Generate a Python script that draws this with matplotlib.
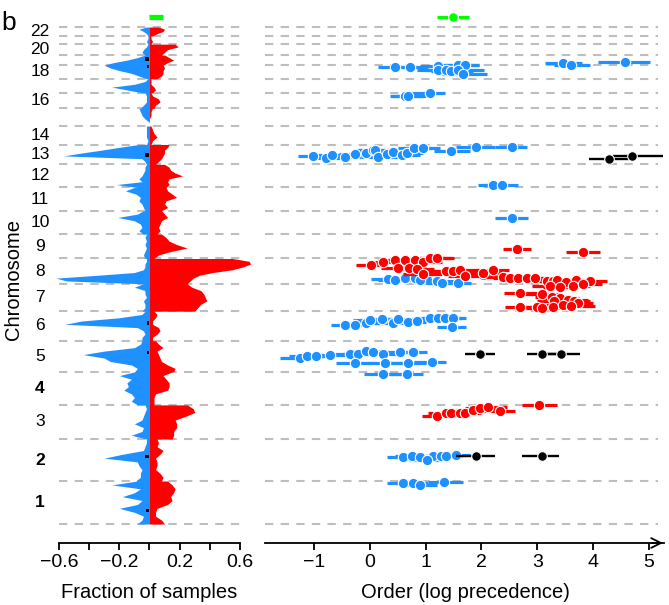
import numpy as np
import matplotlib.pyplot as plt

plt.rcParams['font.family'] = ['Liberation Sans', 'DejaVu Sans']

# chromosome sizes in Mb (chr1 .. chr22)
chrom_len = [249.3, 243.2, 198.0, 191.2, 180.9, 171.1, 159.1, 146.4, 141.2, 135.5, 135.0,
             133.9, 115.2, 107.3, 102.5, 90.4, 81.2, 78.1, 59.1, 63.0, 48.1, 51.3]
label_chroms = [1, 2, 3, 4, 5, 6, 7, 8, 9, 10, 11, 12, 13, 14, 16, 18, 20, 22]
bold_chroms = [1, 2, 4]

# fraction of samples with gain / loss, evenly spaced along each chromosome
# (listed from the top of the chromosome band to its bottom)
gain = [
    [0.12, 0.15, 0.17, 0.16, 0.14, 0.15, 0.12, 0.05, 0.04, 0.04, 0.08, 0.10],
    [0.05, 0.06, 0.05, 0.09, 0.07, 0.04, 0.05, 0.05, 0.04, 0.07, 0.09, 0.08],
    [0.25, 0.29, 0.30, 0.24, 0.17, 0.18, 0.18, 0.16, 0.16, 0.15],
    [0.15, 0.09, 0.11, 0.13, 0.13, 0.12, 0.04, 0.03, 0.03, 0.03],
    [0.04, 0.06, 0.09, 0.05, 0.06, 0.07, 0.08, 0.12, 0.17, 0.16],
    [0.03, 0.05, 0.04, 0.02, 0.02, 0.06, 0.07, 0.05, 0.02, 0.02],
    [0.25, 0.28, 0.34, 0.36, 0.37, 0.38, 0.34, 0.32, 0.30],
    [0.55, 0.66, 0.67, 0.62, 0.55, 0.42, 0.33, 0.29, 0.27, 0.25],
    [0.08, 0.11, 0.13, 0.18, 0.25, 0.14, 0.06, 0.03],
    [0.08, 0.10, 0.12, 0.08, 0.07, 0.06, 0.07, 0.05],
    [0.11, 0.12, 0.15, 0.18, 0.11, 0.10, 0.12, 0.08],
    [0.10, 0.13, 0.14, 0.17, 0.22, 0.13, 0.12, 0.13, 0.11],
    [0.13, 0.12, 0.10, 0.10, 0.09, 0.08, 0.06, 0.04],
    [0.01, 0.02, 0.03, 0.05, 0.02, 0.01],
    [0.02, 0.01, 0.01, 0.00, 0.00, 0.00],
    [0.01, 0.02, 0.06, 0.07, 0.04, 0.03],
    [0.01, 0.01, 0.01, 0.03, 0.04, 0.02],
    [0.09, 0.10, 0.09, 0.09, 0.08, 0.05],
    [0.10, 0.13, 0.16, 0.12, 0.09],
    [0.17, 0.19, 0.12, 0.10, 0.08],
    [0.01, 0.01, 0.02, 0.01],
    [0.06, 0.10, 0.09, 0.05, 0.02],
]
loss = [
    [-0.08, -0.25, -0.06, -0.10, -0.18, -0.05, -0.08, -0.20, -0.10, -0.04, -0.05, -0.08],
    [-0.02, -0.02, -0.03, -0.04, -0.18, -0.30, -0.08, -0.07, -0.05, -0.06, -0.06, -0.09],
    [-0.03, -0.02, -0.03, -0.04, -0.05, -0.10, -0.04, -0.05, -0.12, -0.02],
    [-0.10, -0.20, -0.12, -0.15, -0.14, -0.17, -0.12, -0.10, -0.12, -0.08],
    [-0.05, -0.06, -0.10, -0.30, -0.44, -0.30, -0.26, -0.12, -0.08, -0.10],
    [-0.03, -0.05, -0.20, -0.45, -0.56, -0.08, -0.04, -0.03, -0.05, -0.05],
    [-0.04, -0.10, -0.03, -0.03, -0.02, -0.04, -0.03, -0.03, -0.05],
    [-0.02, -0.02, -0.03, -0.03, -0.04, -0.10, -0.35, -0.62, -0.55, -0.05],
    [-0.02, -0.03, -0.02, -0.03, -0.02, -0.03, -0.04, -0.03],
    [-0.04, -0.08, -0.21, -0.10, -0.06, -0.05, -0.07, -0.04],
    [-0.10, -0.16, -0.09, -0.06, -0.07, -0.05, -0.04, -0.03],
    [-0.02, -0.03, -0.03, -0.04, -0.05, -0.07, -0.05, -0.22, -0.08],
    [-0.07, -0.20, -0.32, -0.45, -0.57, -0.05, -0.03, -0.02],
    [-0.02, -0.02, -0.02, -0.02, -0.01, -0.02],
    [-0.07, -0.06, -0.05, -0.03, 0.00, 0.00],
    [-0.03, -0.02, -0.02, -0.02, -0.04, -0.06],
    [-0.01, -0.03, -0.10, -0.25, -0.15, -0.05],
    [-0.30, -0.26, -0.20, -0.12, -0.07, -0.02],
    [-0.03, -0.08, -0.15, -0.24, -0.30],
    [-0.01, -0.02, -0.04, -0.05, -0.03],
    [-0.01, -0.01, -0.02, -0.01],
    [-0.02, -0.07, -0.04, -0.02, -0.01],
]

# small black marks (chromosome, fraction from top of band, value)
mark_chrom = [19, 13, 2, 1, 18, 6, 5]
mark_frac = [0.37, 0.53, 0.41, 0.68, 0.10, 0.40, 0.38]
mark_val = [-0.03, -0.03, -0.03, -0.025, -0.015, -0.015, -0.015]

green_frac = 0.09
green_pos = 2941

# ordering estimates: genome position (Mb), estimate, interval
blue_pos = [2651, 2651, 2655, 2632, 2632, 2626, 2661, 2661, 2632, 2609, 2671, 2661, 2680,
            2483, 2483, 2497,
            2133, 2122, 2139, 2128, 2145, 2151, 2168, 2168, 2128, 2145, 2157, 2139, 2151,
            2180, 2181, 2162, 2184, 2186,
            1965, 1965, 1772,
            1419, 1414, 1426, 1426, 1414, 1410, 1395, 1395, 1441,
            1154, 1154, 1163, 1183, 1187, 1163, 1187, 1173, 1178, 1192, 1192, 1192, 1192, 1144,
            961, 974, 974, 980, 986, 986, 1005, 999, 986, 999, 995, 935, 935, 935, 941, 868, 868,
            390, 394, 390, 394, 394, 394, 400, 371,
            236, 236, 226, 242]
blue_x = [0.45, 0.72, 1.22, 1.22, 1.36, 1.46, 1.58, 1.70, 1.58, 1.67, 3.46, 3.60, 4.57,
          0.63, 0.68, 1.08,
          -1.02, -0.78, -0.67, -0.45, -0.27, -0.06, 0.05, 0.09, 0.15, 0.30, 0.42, 0.57, 0.66,
          0.79, 0.96, 1.46, 1.91, 2.54,
          2.21, 2.36, 2.54,
          0.32, 0.45, 0.63, 0.81, 0.90, 1.20, 1.30, 1.58, 2.03,
          -0.45, -0.27, -0.06, 0.00, 0.21, 0.42, 0.51, 0.69, 0.84, 1.08, 1.22, 1.35, 1.49, 1.48,
          -1.25, -1.13, -0.96, -0.72, -0.36, -0.21, -0.06, 0.06, 0.24, 0.54, 0.78, -0.27, 0.27,
          0.69, 1.12, 0.23, 0.66,
          0.60, 0.75, 0.90, 1.14, 1.28, 1.37, 1.55, 1.02,
          0.60, 0.78, 0.90, 1.33]
blue_lo = [0.15, 0.40, 0.90, 0.85, 1.00, 1.10, 1.25, 1.35, 1.20, 1.30, 3.14, 3.30, 4.09,
           0.36, 0.40, 0.75,
           -1.28, -1.05, -0.95, -0.75, -0.55, -0.35, -0.25, -0.20, -0.15, 0.00, 0.10, 0.25, 0.35,
           0.50, 0.65, 1.15, 1.55, 2.25,
           1.94, 2.05, 2.24,
           0.03, 0.15, 0.30, 0.50, 0.60, 0.90, 1.00, 1.30, 1.75,
           -0.69, -0.55, -0.35, -0.30, -0.10, 0.10, 0.20, 0.40, 0.55, 0.80, 0.95, 1.05, 1.20, 1.20,
           -1.61, -1.45, -1.25, -1.00, -0.65, -0.50, -0.35, -0.25, -0.05, 0.25, 0.50, -0.60, -0.05,
           0.35, 0.80, -0.10, 0.35,
           0.30, 0.45, 0.60, 0.85, 0.95, 1.05, 1.25, 0.70,
           0.30, 0.45, 0.60, 1.05]
blue_hi = [0.75, 1.05, 1.55, 1.60, 1.75, 1.85, 1.95, 1.95, 2.05, 2.10, 3.80, 3.94, 5.02,
           0.95, 1.00, 1.34,
           -0.75, -0.50, -0.40, -0.15, 0.00, 0.25, 0.35, 0.40, 0.50, 0.60, 0.75, 0.90, 0.95,
           1.10, 1.25, 1.80, 2.25, 2.81,
           2.50, 2.66, 2.84,
           0.60, 0.75, 0.95, 1.10, 1.20, 1.50, 1.60, 1.82, 2.27,
           -0.20, 0.00, 0.25, 0.30, 0.50, 0.75, 0.80, 1.00, 1.15, 1.40, 1.50, 1.65, 1.73, 1.73,
           -0.95, -0.80, -0.65, -0.40, -0.05, 0.10, 0.25, 0.35, 0.55, 0.85, 1.02, 0.05, 0.60,
           1.00, 1.37, 0.55, 0.95,
           0.90, 1.05, 1.20, 1.45, 1.55, 1.65, 1.79, 1.30,
           0.90, 1.05, 1.20, 1.67]

red_pos = [1594, 1579,
           1501, 1516, 1530, 1530, 1530, 1516, 1540, 1540, 1484, 1484, 1478, 1449, 1467, 1467,
           1472, 1438, 1457, 1472, 1433, 1429, 1424, 1424, 1424,
           1408, 1411, 1414, 1403, 1414, 1407, 1380, 1376, 1380, 1389,
           1337, 1333, 1318, 1310, 1299, 1290, 1279, 1290, 1260, 1256, 1252, 1256, 1270, 1262,
           626, 645, 642, 645, 642, 661, 672, 680, 657, 690]
red_x = [2.63, 3.82,
         0.02, 0.24, 0.45, 0.63, 0.81, 0.96, 1.08, 1.20, 0.50, 0.70, 0.85, 0.96, 1.37, 1.49,
         1.61, 1.70, 2.03, 2.21, 2.39, 2.51, 2.66, 2.81, 2.96,
         3.17, 3.29, 3.35, 3.52, 3.70, 3.94, 3.23, 3.41, 3.64, 3.82,
         2.69, 3.08, 3.26, 3.40, 3.55, 3.66, 3.73, 3.30, 2.69, 2.99, 3.08, 3.28, 3.46, 3.60,
         1.20, 1.37, 1.46, 1.61, 1.70, 1.85, 1.97, 2.12, 2.33, 3.03]
red_lo = [2.39, 3.52,
          -0.24, -0.05, 0.15, 0.35, 0.50, 0.65, 0.80, 0.90, 0.20, 0.40, 0.55, 0.60, 1.05, 1.15,
          1.30, 1.40, 1.70, 1.90, 2.05, 2.20, 2.35, 2.50, 2.65,
          2.85, 2.95, 3.00, 3.20, 3.40, 3.60, 2.90, 3.10, 3.30, 3.50,
          2.40, 2.75, 2.95, 3.10, 3.20, 3.35, 3.40, 3.00, 2.42, 2.70, 2.80, 2.95, 3.15, 3.30,
          0.93, 1.05, 1.15, 1.30, 1.40, 1.55, 1.70, 1.80, 2.05, 2.72]
red_hi = [2.88, 4.12,
          0.30, 0.55, 0.75, 0.95, 1.10, 1.30, 1.45, 1.50, 0.80, 1.00, 1.15, 1.30, 1.70, 1.80,
          1.95, 2.00, 2.35, 2.50, 2.70, 2.85, 2.95, 3.10, 3.25,
          3.50, 3.60, 3.70, 3.85, 4.00, 4.24, 3.55, 3.75, 3.95, 4.15,
          3.00, 3.40, 3.60, 3.75, 3.90, 3.94, 4.00, 3.65, 3.00, 3.30, 3.40, 3.60, 3.80, 4.03,
          1.45, 1.65, 1.75, 1.90, 2.00, 2.15, 2.30, 2.45, 2.60, 3.35]

black_pos = [2116, 2135, 986, 986, 986, 394, 394]
black_x = [4.29, 4.69, 1.97, 3.09, 3.43, 1.90, 3.08]
black_lo = [3.93, 4.35, 1.70, 2.81, 3.15, 1.55, 2.73]
black_hi = [4.65, 5.26, 2.24, 3.35, 3.76, 2.24, 3.39]

green_x = [1.49]
green_lo = [1.20]
green_hi = [1.78]

BLUE = '#1E90FF'
RED = '#FF0000'
GREEN = '#00FF00'
GRID = '#BEBEBE'

starts = np.concatenate([[0], np.cumsum(chrom_len)[:-1]])
ends = starts + np.array(chrom_len)
bounds = np.concatenate([starts, [ends[-1]]])
ylim = (-139.1, 3008.7)
axis_y = -110

fig = plt.figure(figsize=(6.69, 6.05), dpi=100)

# ---------------- left panel: gain / loss profile ----------------
ax1 = fig.add_axes([55 / 669, 57 / 605, 200 / 669, 543 / 605])
ax1.set_xlim(-0.6265, 0.6995)
ax1.set_ylim(*ylim)

ax1.hlines(bounds, -0.6, 0.61, colors=GRID, linestyles=(0, (4, 3.5)), lw=1.5, zorder=1)

ys, gs, ls = [], [], []
for c in range(21, -1, -1):
    ys.append(np.linspace(ends[c], starts[c], len(gain[c])))
    gs.append(gain[c])
    ls.append(loss[c])
yy = np.concatenate(ys)
ax1.fill_betweenx(yy, 0, np.concatenate(gs), color=RED, lw=0, zorder=2)
ax1.fill_betweenx(yy, np.concatenate(ls), 0, color=BLUE, lw=0, zorder=2)

for c, f, v in zip(mark_chrom, mark_frac, mark_val):
    yc = ends[c - 1] - f * chrom_len[c - 1]
    ax1.barh(yc, v, height=20, color='black', zorder=3)

ax1.hlines(green_pos, 0, green_frac, colors=GREEN, lw=3.8, zorder=3)

for s in ['top', 'right', 'left']:
    ax1.spines[s].set_visible(False)
ax1.spines['bottom'].set_position(('data', axis_y))
ax1.spines['bottom'].set_bounds(-0.6, 0.6)
ax1.spines['bottom'].set_linewidth(1.3)
ax1.set_xticks([-0.6, -0.4, -0.2, 0, 0.2, 0.4, 0.6])
ax1.set_xticklabels(['\u22120.6', '', '\u22120.2', '', '0.2', '', '0.6'])
ax1.tick_params(axis='x', length=5, width=1.3, labelsize=14, pad=3)
ax1.set_yticks([])

for c in label_chroms:
    yc = (starts[c - 1] + ends[c - 1]) / 2
    ax1.text(-0.075, yc, str(c), transform=ax1.get_yaxis_transform(), ha='center', va='center',
             fontsize=12.5, fontweight='bold' if c in bold_chroms else 'normal')

# ---------------- right panel: ordering ----------------
ax2 = fig.add_axes([262 / 669, 57 / 605, 406 / 669, 543 / 605])
ax2.set_xlim(-1.931, 5.341)
ax2.set_ylim(*ylim)

ax2.hlines(bounds, -1.877, 5.16, colors=GRID, linestyles=(0, (4, 3.5)), lw=1.5, zorder=1)

ax2.hlines(blue_pos, blue_lo, blue_hi, colors=BLUE, lw=2.3, zorder=2)
ax2.scatter(blue_x, blue_pos, s=56, color=BLUE, edgecolors='white', linewidths=0.8, zorder=3)
ax2.hlines(red_pos, red_lo, red_hi, colors=RED, lw=2.3, zorder=4)
ax2.scatter(red_x, red_pos, s=56, color=RED, edgecolors='white', linewidths=0.8, zorder=5)
ax2.hlines(black_pos, black_lo, black_hi, colors='black', lw=1.7, zorder=6)
ax2.scatter(black_x, black_pos, s=48, color='black', edgecolors='white', linewidths=0.8, zorder=7)
ax2.hlines([green_pos], green_lo, green_hi, colors=GREEN, lw=2.3, zorder=6)
ax2.scatter(green_x, [green_pos], s=48, color=GREEN, edgecolors='white', linewidths=0.8, zorder=7)

for s in ['top', 'right', 'left']:
    ax2.spines[s].set_visible(False)
ax2.spines['bottom'].set_position(('data', axis_y))
ax2.spines['bottom'].set_bounds(-1.877, 5.27)
ax2.spines['bottom'].set_linewidth(1.3)
ax2.annotate('', xy=(5.30, axis_y), xytext=(5.0, axis_y),
             arrowprops=dict(arrowstyle='->,head_length=0.7,head_width=0.35', lw=1.3, color='black'),
             annotation_clip=False)
ax2.set_xticks([-1, 0, 1, 2, 3, 4, 5])
ax2.set_xticklabels(['\u22121', '0', '1', '2', '3', '4', '5'])
ax2.tick_params(axis='x', length=5, width=1.3, labelsize=14, pad=3)
ax2.set_yticks([])

fig.text(149 / 669, 1 - 592 / 605, 'Fraction of samples', ha='center', va='center', fontsize=14.5)
fig.text(465 / 669, 1 - 592 / 605, 'Order (log precedence)', ha='center', va='center', fontsize=14.5)
fig.text(14 / 669, 1 - 279 / 605, 'Chromosome', rotation=90, ha='center', va='center', fontsize=14.5)
fig.text(9 / 669, 1 - 23 / 605, 'b', ha='center', va='center', fontsize=19)

fig.savefig('out.png', dpi=100)
